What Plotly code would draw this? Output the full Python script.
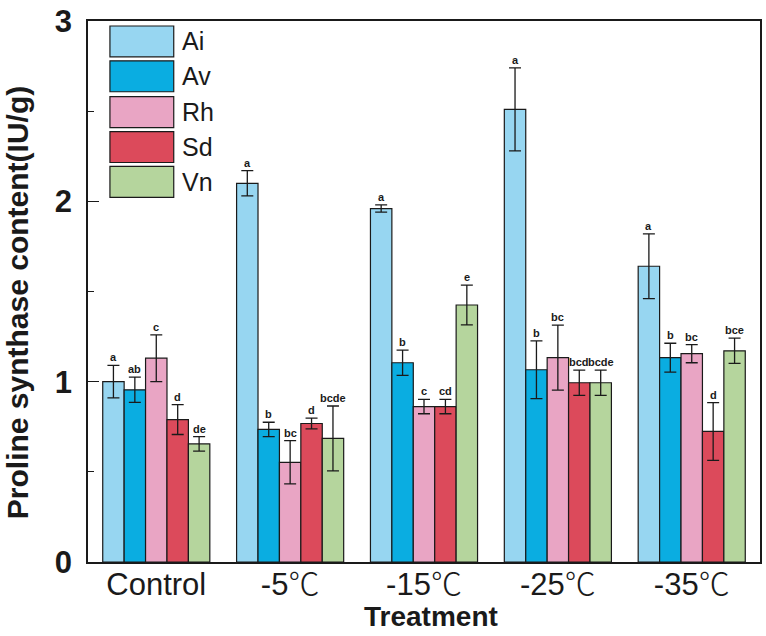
import plotly.graph_objects as go

categories = ["Control", "-5℃", "-15℃", "-25℃", "-35℃"]
series_names = ["Ai", "Av", "Rh", "Sd", "Vn"]
colors = ["#97d6f1", "#0aade1", "#e9a5c4", "#dc4a5b", "#b5d59d"]

ai = [1.00, 2.10, 1.96, 2.51, 1.64]
av = [0.955, 0.735, 1.105, 1.066, 1.133]
rh = [1.13, 0.553, 0.862, 1.133, 1.155]
sd = [0.79, 0.768, 0.862, 0.994, 0.724]
vn = [0.655, 0.685, 1.425, 0.994, 1.171]

ai_err = [0.09, 0.07, 0.02, 0.23, 0.18]
av_err = [0.07, 0.04, 0.07, 0.16, 0.08]
rh_err = [0.13, 0.12, 0.04, 0.18, 0.05]
sd_err = [0.083, 0.03, 0.04, 0.07, 0.16]
vn_err = [0.04, 0.18, 0.11, 0.07, 0.07]

ai_lab = ["a", "a", "a", "a", "a"]
av_lab = ["ab", "b", "b", "b", "b"]
rh_lab = ["c", "bc", "c", "bc", "bc"]
sd_lab = ["d", "d", "cd", "bcd", "d"]
vn_lab = ["de", "bcde", "e", "bcde", "bce"]

values = [ai, av, rh, sd, vn]
errors = [ai_err, av_err, rh_err, sd_err, vn_err]
labels = [ai_lab, av_lab, rh_lab, sd_lab, vn_lab]

FONT = "Liberation Sans, Arial"
CJK = "Noto Sans CJK SC"


def fmt_tick(t):
    if "℃" in t:
        return t.replace("℃", f'<span style="font-family:{CJK};font-weight:200">℃</span>')
    return t


bw = 0.16
fig = go.Figure()
annotations = []
for i, name in enumerate(series_names):
    xs = [g + (i - 2) * bw for g in range(len(categories))]
    fig.add_trace(go.Bar(
        x=xs, y=values[i], width=bw, name=name,
        marker=dict(color=colors[i], line=dict(color="#1a1a1a", width=1.2)),
        error_y=dict(type="data", array=errors[i], visible=True,
                     color="#1a1a1a", thickness=1.3, width=6),
        showlegend=False,
    ))
    for x, v, e, t in zip(xs, values[i], errors[i], labels[i]):
        annotations.append(dict(
            x=x, y=v + e, text=f"<b>{t}</b>", showarrow=False, xref="x", yref="y",
            yanchor="bottom", yshift=0,
            font=dict(family=FONT, size=11, color="#1a1a1a"),
        ))

# legend drawn manually
L, R, T, B = 88, 762, 19, 562
W, H = R - L, B - T
shapes = []
row_tops = [24, 59, 95, 130, 165]
for i, name in enumerate(series_names):
    y0 = row_tops[i]
    shapes.append(dict(type="rect", xref="paper", yref="paper",
                       x0=(110 - L) / W, x1=(174 - L) / W,
                       y0=(B - (y0 + 31)) / H, y1=(B - y0) / H,
                       fillcolor=colors[i], line=dict(color="#1a1a1a", width=1.2)))
    annotations.append(dict(
        x=(180 - L) / W, y=(B - (y0 + 15.5)) / H, xref="paper", yref="paper",
        text=name, showarrow=False, xanchor="left", yanchor="middle",
        font=dict(family=FONT, size=25, color="#1a1a1a"),
    ))

# axis titles as annotations for precise placement
annotations.append(dict(
    x=(18 - L) / W, y=(B - 302) / H, xref="paper", yref="paper",
    text="<b>Proline synthase content(IU/g)</b>", showarrow=False, textangle=-90,
    xanchor="center", yanchor="middle", borderpad=0,
    font=dict(family=FONT, size=30, color="#1a1a1a"),
))
annotations.append(dict(
    x=(432 - L) / W, y=(B - 617) / H, xref="paper", yref="paper",
    text="<b>Treatment</b>", showarrow=False,
    xanchor="center", yanchor="middle", borderpad=0,
    font=dict(family=FONT, size=28, color="#1a1a1a"),
))

fig.update_layout(
    width=766, height=636,
    margin=dict(l=L, r=766 - R, t=T, b=636 - B),
    plot_bgcolor="white", paper_bgcolor="white",
    barmode="overlay",
    annotations=annotations, shapes=shapes,
    font=dict(family=FONT, color="#1a1a1a"),
)
fig.update_xaxes(
    range=[-0.51, 4.51], tickvals=list(range(len(categories))),
    ticktext=[fmt_tick(c) for c in categories],
    showline=True, linecolor="#1a1a1a", linewidth=1.5, mirror=True,
    ticks="", showgrid=False, zeroline=False, ticklabelstandoff=-6,
    tickfont=dict(size=31, family=FONT),
)
fig.update_yaxes(
    range=[0, 3], tickvals=[0, 1, 2, 3], ticktext=["<b>0</b>", "<b>1</b>", "<b>2</b>", "<b>3</b>"],
    showline=True, linecolor="#1a1a1a", linewidth=1.5, mirror=True,
    ticks="inside", ticklen=11, tickwidth=1.3, tickcolor="#1a1a1a",
    minor=dict(tickvals=[0.5, 1.5, 2.5], ticks="inside", ticklen=6, tickwidth=1.3, tickcolor="#1a1a1a"),
    showgrid=False, zeroline=False, ticklabelstandoff=8,
    tickfont=dict(size=31, family=FONT),
)

fig.write_html("out.html")
